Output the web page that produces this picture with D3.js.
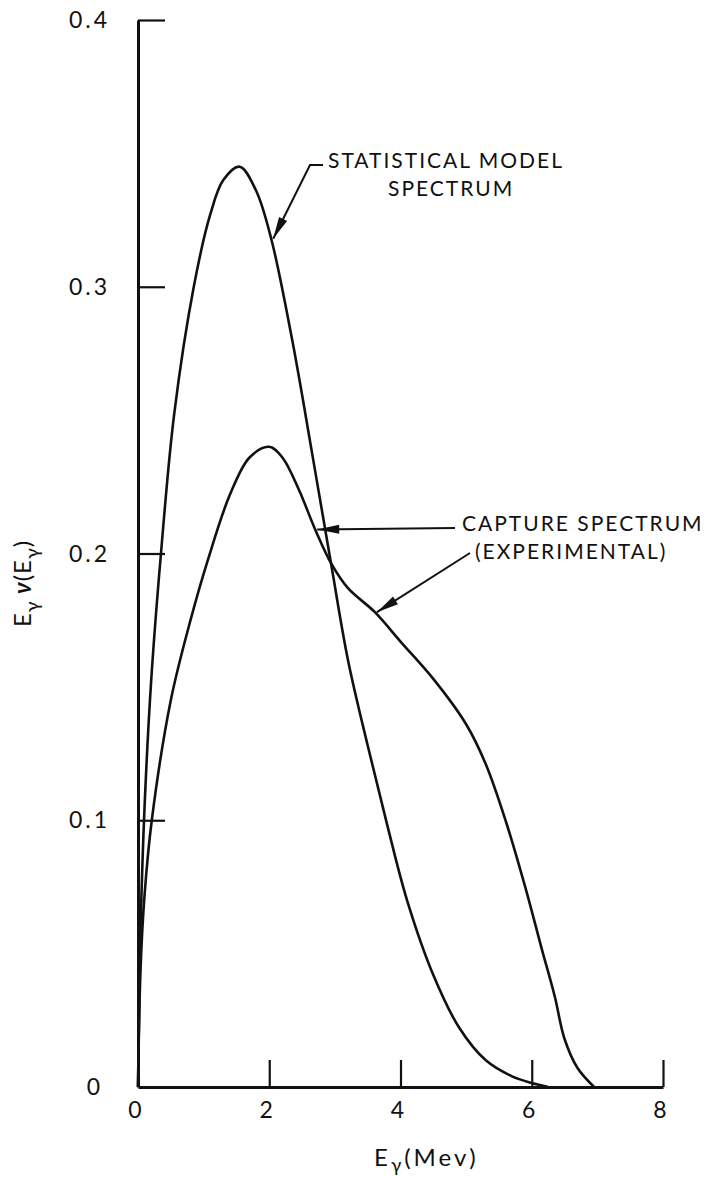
<!DOCTYPE html>
<html>
<head>
<meta charset="utf-8">
<script src="https://cdn.jsdelivr.net/npm/d3@7"></script>
<style>
  html, body { margin: 0; padding: 0; background: #fff; }
  svg { display: block; }
  text { font-family: Lato, "DejaVu Sans", sans-serif; fill: #111; }
</style>
</head>
<body>
<svg id="chart" width="709" height="1180"></svg>
<script>
// Statistical model spectrum: photon energy (MeV) and E·ν(E)
const statEnergy = [0, 0.04, 0.1, 0.2, 0.35, 0.55, 0.85, 1.1, 1.3, 1.55, 1.8, 2.03, 2.35, 2.65, 2.95, 3.2, 3.5, 3.8, 4.1, 4.5, 4.9, 5.3, 5.7, 6.0, 6.25];
const statValue  = [0, 0.06, 0.105, 0.152, 0.2, 0.252, 0.3, 0.327, 0.34, 0.345, 0.336, 0.318, 0.28, 0.238, 0.195, 0.16, 0.128, 0.098, 0.07, 0.042, 0.022, 0.01, 0.004, 0.0015, 0];

// Experimental capture spectrum
const captureEnergy = [0, 0.04, 0.1, 0.21, 0.5, 0.8, 1.07, 1.4, 1.7, 2.0, 2.2, 2.45, 2.7, 2.95, 3.2, 3.61, 4.0, 4.5, 5.0, 5.3, 5.6, 5.9, 6.15, 6.35, 6.5, 6.7, 6.95];
const captureValue  = [0, 0.045, 0.072, 0.1, 0.145, 0.175, 0.198, 0.222, 0.236, 0.24, 0.236, 0.224, 0.209, 0.196, 0.187, 0.178, 0.167, 0.153, 0.136, 0.121, 0.1, 0.075, 0.052, 0.034, 0.018, 0.007, 0];

// Axis ticks
const xTicks = [0, 2, 4, 6, 8];
const yTicks = [0, 0.1, 0.2, 0.3, 0.4];
const yTickLabels = ["0", "0.1", "0.2", "0.3", "0.4"];

const svg = d3.select("#chart");

const x = d3.scaleLinear().domain([0, 8]).range([138, 663]);
const y = d3.scaleLinear().domain([0, 0.4]).range([1087, 20]);

// Axes: ticks point inward
const yAxis = d3.axisRight(y).tickValues(yTicks.slice(1)).tickSize(27).tickSizeOuter(0).tickFormat("");
const xAxis = d3.axisTop(x).tickValues(xTicks.slice(1)).tickSize(27).tickSizeOuter(0).tickFormat("");

const gy = svg.append("g").attr("transform", `translate(${x(0)},0)`).call(yAxis);
const gx = svg.append("g").attr("transform", `translate(0,${y(0)})`).call(xAxis);
[gx, gy].forEach(g => {
  g.select(".domain").attr("stroke", "#111").attr("stroke-width", 3);
  g.selectAll(".tick line").attr("stroke", "#111").attr("stroke-width", 2.2);
});

// Tick labels
svg.append("g").selectAll("text").data(yTicks).join("text")
  .attr("x", (d, i) => i === 0 ? 95 : 110)
  .attr("y", d => y(d) + 8)
  .attr("text-anchor", (d, i) => i === 0 ? "middle" : "end")
  .attr("font-size", 23)
  .attr("letter-spacing", 3)
  .text((d, i) => yTickLabels[i]);

svg.append("g").selectAll("text").data(xTicks).join("text")
  .attr("x", d => x(d) - 3)
  .attr("y", y(0) + 31)
  .attr("text-anchor", "middle")
  .attr("font-size", 23)
  .text(d => d);

// Axis titles
const xt = svg.append("text").attr("x", 374).attr("y", 1166).attr("font-size", 24).attr("letter-spacing", 3);
xt.append("tspan").text("E");
xt.append("tspan").attr("dy", 6).attr("font-size", 19).text("γ");
xt.append("tspan").attr("dy", -6).text("(Mev)");

const yt = svg.append("text").attr("transform", "translate(31,627) rotate(-90)").attr("font-size", 24).attr("letter-spacing", 1);
yt.append("tspan").text("E");
yt.append("tspan").attr("dy", 8).attr("font-size", 20).text("γ");
yt.append("tspan").attr("dy", -8).attr("font-style", "italic").attr("font-weight", "bold").text(" ν");
yt.append("tspan").text("(E");
yt.append("tspan").attr("dy", 8).attr("font-size", 20).text("γ");
yt.append("tspan").attr("dy", -8).text(")");

// Spectrum curves
const line = d3.line().x(d => x(d[0])).y(d => y(d[1])).curve(d3.curveCatmullRom.alpha(0.5));
const statPts = statEnergy.map((e, i) => [e, statValue[i]]);
const capPts = captureEnergy.map((e, i) => [e, captureValue[i]]);

svg.append("path").attr("d", line(statPts)).attr("fill", "none").attr("stroke", "#111").attr("stroke-width", 2.6);
svg.append("path").attr("d", line(capPts)).attr("fill", "none").attr("stroke", "#111").attr("stroke-width", 2.6);

// Leader lines with arrowheads
function leader(points) {
  svg.append("path").attr("d", d3.line()(points)).attr("fill", "none").attr("stroke", "#111").attr("stroke-width", 2);
  const [tx, ty] = points[points.length - 1];
  const [px, py] = points[points.length - 2];
  const a = Math.atan2(ty - py, tx - px);
  const len = 22, w = 4.5;
  const bx = tx - len * Math.cos(a), by = ty - len * Math.sin(a);
  const nx = -Math.sin(a) * w, ny = Math.cos(a) * w;
  svg.append("path")
    .attr("d", `M${tx},${ty}L${bx + nx},${by + ny}L${bx - nx},${by - ny}Z`)
    .attr("fill", "#111");
}

leader([[323, 165], [310, 165], [x(2.03) + 2, y(0.318)]]);
leader([[455, 528], [x(2.7) + 2, y(0.209)]]);
leader([[470, 553], [x(3.61) + 2, y(0.178)]]);

// Annotation labels
const ann = [
  { t: "STATISTICAL MODEL", x: 328, y: 168 },
  { t: "SPECTRUM", x: 388, y: 196 },
  { t: "CAPTURE SPECTRUM", x: 462, y: 531 },
  { t: "(EXPERIMENTAL)", x: 475, y: 559 }
];
svg.append("g").selectAll("text").data(ann).join("text")
  .attr("x", d => d.x).attr("y", d => d.y)
  .attr("font-size", 21).attr("letter-spacing", 2)
  .text(d => d.t);
</script>
</body>
</html>
